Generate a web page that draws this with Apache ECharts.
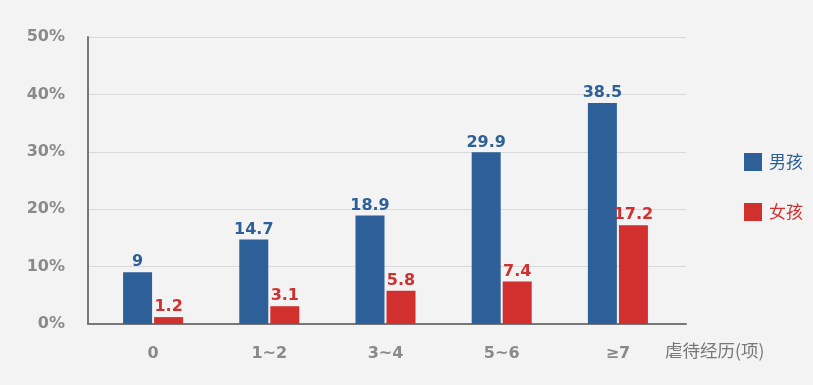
<!DOCTYPE html>
<html><head><meta charset="utf-8">
<script src="https://cdn.jsdelivr.net/npm/echarts@6/dist/echarts.min.js"></script>
<style>html,body{margin:0;padding:0;background:#f3f3f3}#c{width:813px;height:385px}</style>
</head><body><div id="c"></div>
<script>
const categories = ['0', '1~2', '3~4', '5~6', '≥7'];
const boys = [9, 14.7, 18.9, 29.9, 38.5];
const girls = [1.2, 3.1, 5.8, 7.4, 17.2];
const seriesNames = ['男孩', '女孩'];
const yTicks = [0, 10, 20, 30, 40, 50];
const axisTitle = '虐待经历(项)';

const BLUE = '#2d5f98', RED = '#d22f2f', GRAY = '#8a8a8a';
const chart = echarts.init(document.getElementById('c'));
const boldFont = '"DejaVu Sans", sans-serif';
chart.setOption({
  backgroundColor: '#f3f3f3',
  animation: false,
  grid: [
    {left: 88, right: 127, top: 37, bottom: 61},
    {left: 95, right: 137, top: 37, bottom: 61}
  ],
  legend: {
    orient: 'vertical', right: 5, top: 148, itemGap: 32,
    itemWidth: 18, itemHeight: 18, icon: 'rect',
    textStyle: {fontSize: 17, fontFamily: '"Noto Sans CJK SC", sans-serif', color: BLUE, padding: [0, 0, 0, 2]},
    data: [
      {name: seriesNames[0], textStyle: {color: BLUE}},
      {name: seriesNames[1], textStyle: {color: RED}}
    ]
  },
  xAxis: [
    {gridIndex: 0, type: 'category', data: categories,
     axisLine: {lineStyle: {color: '#777', width: 2}}, axisTick: {show: false},
     axisLabel: {show: false}},
    {gridIndex: 1, type: 'category', data: categories,
     axisLine: {show: false}, axisTick: {show: false},
     axisLabel: {margin: 22, fontSize: 16, fontWeight: 'bold', color: GRAY, fontFamily: boldFont}}
  ],
  yAxis: [
    {gridIndex: 0, type: 'value', min: yTicks[0], max: yTicks[yTicks.length-1], interval: 10,
     axisLine: {show: true, lineStyle: {color: '#777', width: 2}}, axisTick: {show: false},
     splitLine: {lineStyle: {color: '#d9d9d9', width: 1}},
     axisLabel: {margin: 23, fontSize: 16, fontWeight: 'bold', color: GRAY, fontFamily: boldFont,
       formatter: v => v + '%'}},
    {gridIndex: 1, type: 'value', min: yTicks[0], max: yTicks[yTicks.length-1], interval: 10, show: false}
  ],
  series: [
    {name: seriesNames[0], type: 'bar', xAxisIndex: 1, yAxisIndex: 1, data: boys,
     barWidth: 29, barGap: '7%', itemStyle: {color: BLUE},
     label: {show: true, position: 'top', distance: 2, color: BLUE, fontSize: 16, fontWeight: 'bold', fontFamily: boldFont}},
    {name: seriesNames[1], type: 'bar', xAxisIndex: 1, yAxisIndex: 1, data: girls,
     barWidth: 29, barGap: '7%', itemStyle: {color: RED},
     label: {show: true, position: 'top', distance: 2, color: RED, fontSize: 16, fontWeight: 'bold', fontFamily: boldFont}}
  ],
  graphic: [{type: 'text', left: 665, top: 342,
    style: {text: axisTitle, fontSize: 17.5, fill: '#777', fontFamily: '"Noto Sans CJK SC", sans-serif'}}]
});
</script></body></html>
